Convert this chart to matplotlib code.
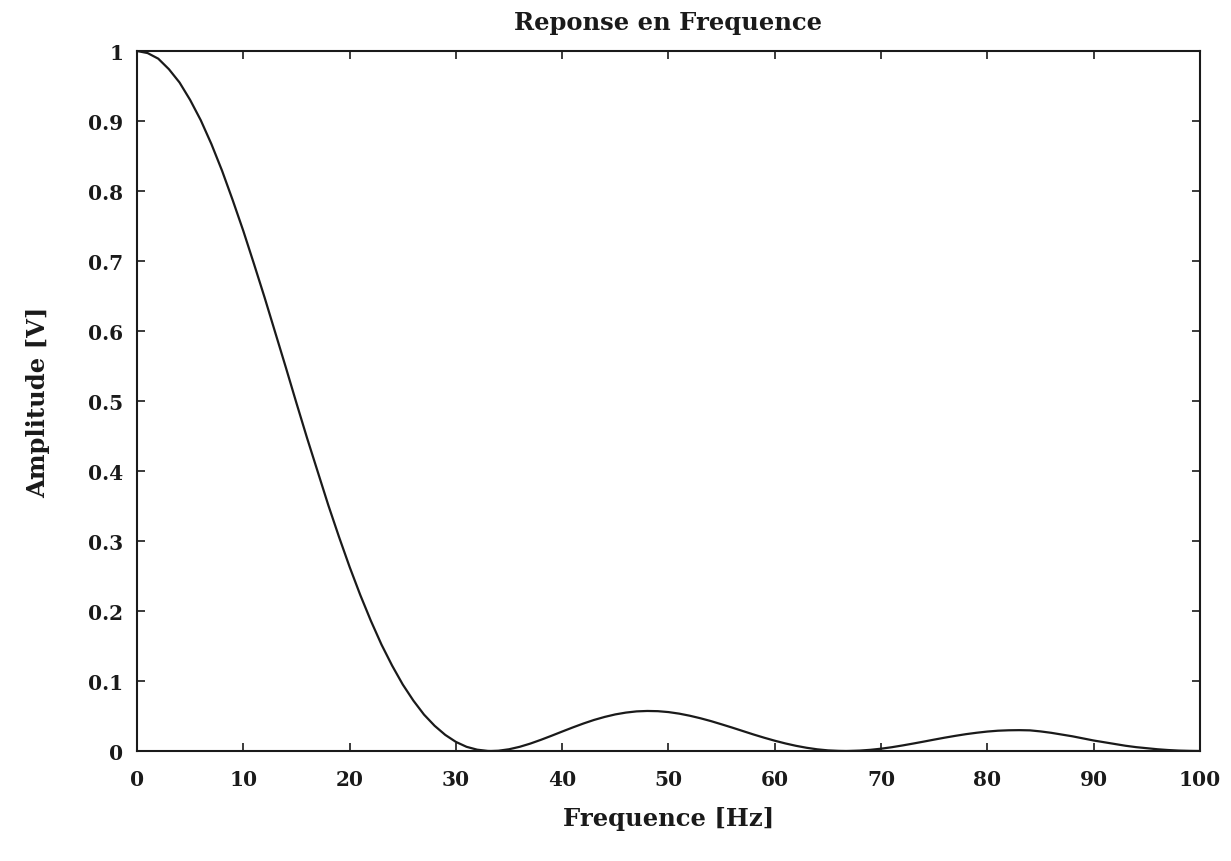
import matplotlib
matplotlib.use("Agg")
import matplotlib.pyplot as plt

freq = [0, 1, 2, 3, 4, 5, 6, 7, 8, 9, 10, 11, 12, 13, 14, 15, 16, 17, 18, 19,
        20, 21, 22, 23, 24, 25, 26, 27, 28, 29, 30, 31, 32, 33, 33.3, 34, 35,
        36, 37, 38, 39, 40, 41, 42, 43, 44, 45, 46, 47, 48, 49, 50, 51, 52, 53,
        54, 55, 56, 57, 58, 59, 60, 61, 62, 63, 64, 65, 66, 66.7, 67, 68, 69,
        70, 71, 72, 73, 74, 75, 76, 77, 78, 79, 80, 81, 82, 83, 84, 85, 86,
        87, 88, 89, 90, 91, 92, 93, 94, 95, 96, 97, 98, 99, 100]
amplitude = [1.0, 0.997, 0.989, 0.974, 0.955, 0.930, 0.901, 0.867, 0.829, 0.787,
             0.743, 0.696, 0.648, 0.598, 0.548, 0.497, 0.447, 0.399, 0.351, 0.306,
             0.263, 0.223, 0.186, 0.152, 0.122, 0.095, 0.072, 0.052, 0.036, 0.023,
             0.013, 0.006, 0.0019, 0.0001, 0.0, 0.0004, 0.0025,
             0.006, 0.0106, 0.016, 0.0218, 0.0278, 0.0337, 0.0393, 0.0444, 0.0487,
             0.0523, 0.0549, 0.0566, 0.0572, 0.0569, 0.0556, 0.0534, 0.0504, 0.0468,
             0.0427, 0.0381, 0.0334, 0.0285, 0.0236, 0.019, 0.0147, 0.0108, 0.0074,
             0.0046, 0.0024, 0.0009, 0.0002, 0.0, 0.0001, 0.0006, 0.0017,
             0.0033, 0.0054, 0.0079, 0.0106, 0.0134, 0.0163, 0.0191, 0.0217, 0.0241,
             0.0261, 0.0278, 0.029, 0.0296, 0.0298, 0.0295, 0.028, 0.026,
             0.0235, 0.021, 0.018, 0.015, 0.0125, 0.010, 0.0075, 0.0055, 0.004,
             0.0025, 0.0014, 0.0006, 0.0002, 0.0]

xticks = [0, 10, 20, 30, 40, 50, 60, 70, 80, 90, 100]
yticks = [0, 0.1, 0.2, 0.3, 0.4, 0.5, 0.6, 0.7, 0.8, 0.9, 1]
ytick_labels = ["0", "0.1", "0.2", "0.3", "0.4", "0.5", "0.6", "0.7", "0.8", "0.9", "1"]

title = "Reponse en Frequence"
xlabel = "Frequence [Hz]"
ylabel = "Amplitude [V]"

plt.rcParams['font.family'] = ['DejaVu Serif']
plt.rcParams['font.weight'] = 'bold'

fig = plt.figure(figsize=(12.31, 8.62), dpi=100)
ax = fig.add_axes([0.1113, 0.1276, 0.8635, 0.8121])
ax.plot(freq, amplitude, color='#1a1a1a', linewidth=1.6)
ax.set_xlim(0, 100)
ax.set_ylim(0, 1)
ax.set_xticks(xticks)
ax.set_xticklabels([str(t) for t in xticks])
ax.set_yticks(yticks)
ax.set_yticklabels(ytick_labels)
ax.tick_params(direction='in', length=6, width=1.2, top=True, right=True,
               labelsize=14.5, colors='#1a1a1a')
ax.tick_params(axis='x', pad=13)
ax.tick_params(axis='y', pad=10)
for lbl in ax.get_xticklabels() + ax.get_yticklabels():
    lbl.set_fontweight('bold')
for sp in ax.spines.values():
    sp.set_linewidth(1.5)
    sp.set_color('#1a1a1a')
ax.set_title(title, fontsize=17.5, fontweight='bold', pad=16, color='#1a1a1a')
ax.set_xlabel(xlabel, fontsize=17.5, fontweight='bold', labelpad=12, color='#1a1a1a')
ax.set_ylabel(ylabel, fontsize=17.5, fontweight='bold', labelpad=27, color='#1a1a1a')

fig.savefig("out.png", dpi=100)
